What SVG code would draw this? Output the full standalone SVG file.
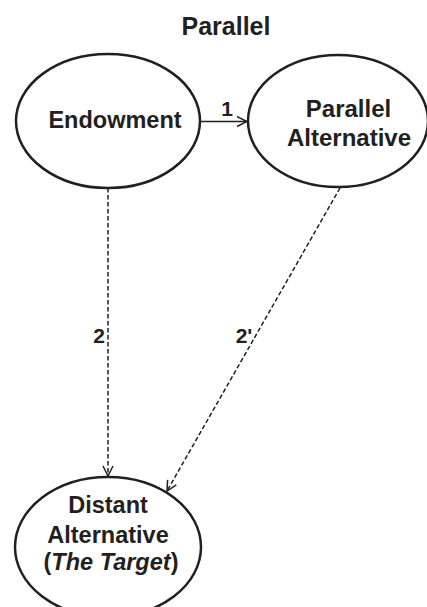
<svg xmlns="http://www.w3.org/2000/svg" width="427" height="607" viewBox="0 0 427 607">
<defs>
<style>
.node{fill:#fff;stroke:#231f20;stroke-width:2.5}
.t{font-family:"Liberation Sans",Arial,sans-serif;font-weight:bold;fill:#231f20;text-anchor:middle}
.edge{fill:none;stroke:#231f20;stroke-width:1.5}
.dash{stroke-dasharray:4.5 2.5}
</style>
<marker id="ah" viewBox="0 0 12 12" refX="11" refY="6" markerWidth="12" markerHeight="12" markerUnits="userSpaceOnUse" orient="auto">
<path d="M1,1 L11,6 L1,11" fill="none" stroke="#231f20" stroke-width="1.5"/>
</marker>
</defs>
<rect width="427" height="607" fill="#fff"/>
<text class="t" x="226" y="35" font-size="25">Parallel</text>
<g id="connectors">
<line class="edge" x1="201" y1="121.5" x2="247" y2="121.5" marker-end="url(#ah)"/>
<line class="edge dash" x1="108" y1="188" x2="108" y2="476" marker-end="url(#ah)"/>
<line class="edge dash" x1="340" y1="188" x2="167" y2="491" marker-end="url(#ah)"/>
<text class="t" x="227" y="116" font-size="21">1</text>
<text class="t" x="99" y="343" font-size="21">2</text>
<text class="t" x="244" y="343" font-size="21">2'</text>
</g>
<g id="endowment">
<ellipse class="node" cx="108" cy="121" rx="92" ry="67"/>
<text class="t" x="115" y="128" font-size="23.5">Endowment</text>
</g>
<g id="parallel-alternative">
<ellipse class="node" cx="338" cy="121" rx="90" ry="66"/>
<text class="t" x="348.5" y="117" font-size="24">Parallel</text>
<text class="t" x="349" y="146" font-size="24">Alternative</text>
</g>
<g id="distant-alternative">
<ellipse class="node" cx="108" cy="547" rx="93" ry="70"/>
<text class="t" x="108" y="513" font-size="23.5">Distant</text>
<text class="t" x="108" y="543" font-size="23.5">Alternative</text>
<text class="t" x="111" y="570" font-size="23.5">(<tspan font-style="italic">The Target</tspan>)</text>
</g>
</svg>
